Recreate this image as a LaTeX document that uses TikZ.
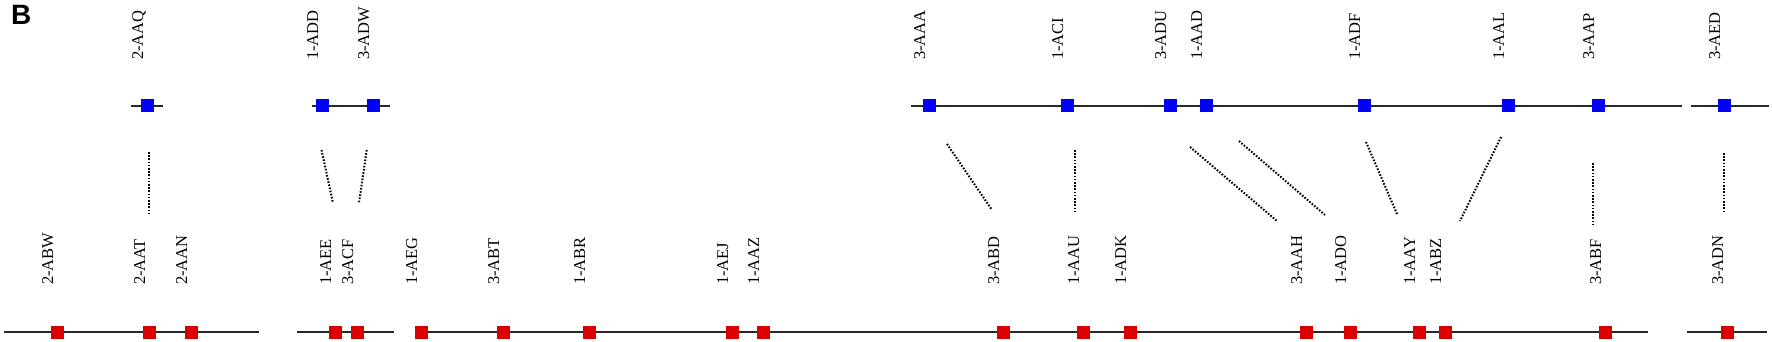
\documentclass[tikz,border=0pt]{standalone}
\usepackage{fontspec}
\setmainfont{Liberation Serif}
\newfontfamily\panelfont{Liberation Sans}
\definecolor{mkblue}{RGB}{0,0,250}
\definecolor{mkred}{RGB}{218,0,0}
\definecolor{trackc}{RGB}{40,40,40}
\tikzset{
  track/.style={draw=trackc, line width=2pt},
  bmark/.style={fill=mkblue, draw=none, minimum size=13pt, inner sep=0pt},
  rmark/.style={fill=mkred, draw=none, minimum size=13pt, inner sep=0pt},
  lab/.style={rotate=90, anchor=base west, inner sep=0pt, font=\fontsize{16.5}{18}\selectfont},
  link/.style={line width=2pt, dash pattern=on 1.6pt off 1.6pt, black},
}
\begin{document}
\begin{tikzpicture}[x=1pt, y=-1pt]
\useasboundingbox (0,0) rectangle (1772,342);
\node[anchor=north west, inner sep=0pt, font=\panelfont\bfseries\fontsize{28}{30}\selectfont] (panel) at (11,5) {B};

% top tracks
\coordinate (ta1) at (131,106); \coordinate (tb1) at (163,106);
\coordinate (ta2) at (312,106); \coordinate (tb2) at (390,106);
\coordinate (ta3) at (911,106); \coordinate (tb3) at (1682,106);
\coordinate (ta4) at (1691,106); \coordinate (tb4) at (1769,106);
\draw[track] (ta1) -- (tb1);
\draw[track] (ta2) -- (tb2);
\draw[track] (ta3) -- (tb3);
\draw[track] (ta4) -- (tb4);

% bottom tracks
\coordinate (ba1) at (4,332); \coordinate (bb1) at (259,332);
\coordinate (ba2) at (297,332); \coordinate (bb2) at (394,332);
\coordinate (ba3) at (415,332); \coordinate (bb3) at (1648,332);
\coordinate (ba4) at (1687,332); \coordinate (bb4) at (1767,332);
\draw[track] (ba1) -- (bb1);
\draw[track] (ba2) -- (bb2);
\draw[track] (ba3) -- (bb3);
\draw[track] (ba4) -- (bb4);

% top markers
\foreach \n/\x/\t in {t1/147/2-AAQ, t2/322/1-ADD, t3/373/3-ADW, t4/929/3-AAA, t5/1067/1-ACI, t6/1170/3-ADU, t7/1206/1-AAD, t8/1364/1-ADF, t9/1508/1-AAL, t10/1598/3-AAP, t11/1724/3-AED}{
  \node[bmark] (\n) at (\x,106) {};
  \node[lab] (\n l) at (\x-4,60) {\t};
}

% bottom markers
\foreach \n/\x/\t in {b1/57/2-ABW, b2/149/2-AAT, b3/191/2-AAN, b4/335/1-AEE, b5/357/3-ACF, b6/421/1-AEG, b7/503/3-ABT, b8/589/1-ABR, b9/732/1-AEJ, b10/763/1-AAZ, b11/1003/3-ABD, b12/1083/1-AAU, b13/1130/1-ADK, b14/1306/3-AAH, b15/1350/1-ADO, b16/1419/1-AAY, b17/1445/1-ABZ, b18/1605/3-ABF, b19/1727/3-ADN}{
  \node[rmark] (\n) at (\x,332) {};
  \node[lab] (\n l) at (\x-4,285) {\t};
}

% dotted links
\coordinate (da1) at (149,152);    \coordinate (db1) at (149,215);
\coordinate (da2) at (321.5,150);  \coordinate (db2) at (333,203);
\coordinate (da3) at (366.7,150);  \coordinate (db3) at (359,203);
\coordinate (da4) at (947,144);    \coordinate (db4) at (992,210);
\coordinate (da5) at (1075,150);   \coordinate (db5) at (1075,213);
\coordinate (da6) at (1190,147);   \coordinate (db6) at (1277,221);
\coordinate (da7) at (1239,141);   \coordinate (db7) at (1325,215);
\coordinate (da8) at (1366,142);   \coordinate (db8) at (1397,214);
\coordinate (da9) at (1501,137);   \coordinate (db9) at (1460,221);
\coordinate (da10) at (1592.6,163); \coordinate (db10) at (1592.6,225);
\coordinate (da11) at (1724,153);  \coordinate (db11) at (1724,211);
\foreach \i in {1,...,11}{ \draw[link] (da\i) -- (db\i); }
\end{tikzpicture}
\end{document}
